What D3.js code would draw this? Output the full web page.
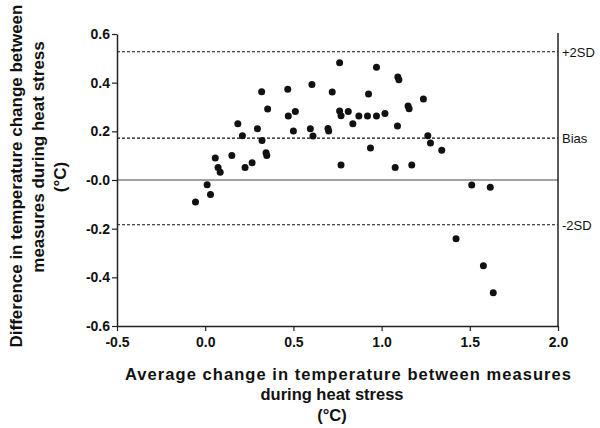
<!DOCTYPE html>
<html>
<head>
<meta charset="utf-8">
<script src="https://cdn.jsdelivr.net/npm/d3@7"></script>
<style>
  body { margin: 0; background: #fff; }
  svg { display: block; font-family: "Liberation Sans", Arial, sans-serif; }
</style>
</head>
<body>
<svg id="chart" width="600" height="428"></svg>
<script>
// Data
const avgChange = [-0.055, 0.011, 0.03, 0.057, 0.073, 0.085, 0.151, 0.185, 0.211, 0.226, 0.266, 0.296, 0.32, 0.322, 0.345, 0.349, 0.354, 0.468, 0.471, 0.511, 0.5, 0.605, 0.596, 0.611, 0.696, 0.70, 0.72, 0.762, 0.762, 0.77, 0.77, 0.811, 0.837, 0.871, 0.926, 0.92, 0.937, 0.971, 0.971, 1.019, 1.077, 1.092, 1.098, 1.09, 1.15, 1.156, 1.171, 1.237, 1.262, 1.277, 1.341, 1.511, 1.616, 1.422, 1.577, 1.633];
const diffChange = [-0.09, -0.02, -0.06, 0.09, 0.051, 0.032, 0.101, 0.231, 0.182, 0.051, 0.071, 0.211, 0.363, 0.162, 0.112, 0.101, 0.292, 0.373, 0.263, 0.282, 0.201, 0.392, 0.211, 0.181, 0.212, 0.201, 0.362, 0.482, 0.284, 0.264, 0.062, 0.282, 0.231, 0.263, 0.353, 0.263, 0.132, 0.463, 0.263, 0.273, 0.051, 0.423, 0.412, 0.222, 0.304, 0.293, 0.062, 0.333, 0.182, 0.152, 0.122, -0.021, -0.03, -0.241, -0.352, -0.463];
const refNames = ["+2SD", "Bias", "-2SD"];
const refValues = [0.527, 0.172, -0.184];
const xTicks = [-0.5, 0.0, 0.5, 1.0, 1.5, 2.0];
const xTickLabels = ["-0.5", "0.0", "0.5", "1.0", "1.5", "2.0"];
const yTicks = [0.6, 0.4, 0.2, 0.0, -0.2, -0.4, -0.6];
const yTickLabels = ["0.6", "0.4", "0.2", "-0.0", "-0.2", "-0.4", "-0.6"];
const yTitle = ["Difference in temperature change between", "measures during heat stress", "(°C)"];
const xTitle = ["Average change in temperature between measures", "during heat stress", "(°C)"];

const svg = d3.select("#chart");
const mLeft = 117, mRight = 558, mTop = 34, mBottom = 326;
const x = d3.scaleLinear().domain([-0.5, 2.0]).range([mLeft, mRight]);
const y = d3.scaleLinear().domain([-0.6, 0.6]).range([mBottom, mTop]);
const axisColor = "#222";

// zero line
svg.append("line")
  .attr("x1", mLeft).attr("x2", mRight)
  .attr("y1", y(0)).attr("y2", y(0))
  .attr("stroke", "#444").attr("stroke-width", 1);

// reference lines
refValues.forEach((v, i) => {
  svg.append("line")
    .attr("x1", mLeft).attr("x2", mRight)
    .attr("y1", y(v)).attr("y2", y(v))
    .attr("stroke", "#111").attr("stroke-width", 1.2)
    .attr("stroke-dasharray", "3,2");
  svg.append("text")
    .attr("x", mRight + 4).attr("y", y(v) + 5)
    .attr("font-size", 13).attr("fill", "#111")
    .text(refNames[i]);
});

// right axis line
svg.append("line")
  .attr("x1", mRight).attr("x2", mRight)
  .attr("y1", mTop - 1).attr("y2", mBottom)
  .attr("stroke", axisColor).attr("stroke-width", 1.5);

// x axis
const xAxis = svg.append("g")
  .attr("transform", `translate(0,${mBottom})`)
  .call(d3.axisBottom(x).tickValues(xTicks)
    .tickFormat((d, i) => xTickLabels[i]).tickSize(5).tickSizeOuter(0));
xAxis.select(".domain").attr("stroke", axisColor).attr("stroke-width", 1.5);
xAxis.selectAll(".tick line").attr("stroke", axisColor).attr("stroke-width", 1.2);
xAxis.selectAll(".tick text").attr("font-size", 14).attr("font-weight", "bold")
  .attr("fill", "#111").attr("font-family", "Liberation Sans, Arial, sans-serif")
  .attr("y", 21).attr("dy", null);

// y axis
const yAxis = svg.append("g")
  .attr("transform", `translate(${mLeft},0)`)
  .call(d3.axisLeft(y).tickValues(yTicks)
    .tickFormat((d, i) => yTickLabels[i]).tickSize(5).tickSizeOuter(0));
yAxis.select(".domain").attr("stroke", axisColor).attr("stroke-width", 1.5);
yAxis.selectAll(".tick line").attr("stroke", axisColor).attr("stroke-width", 1.2);
yAxis.selectAll(".tick text").attr("font-size", 14).attr("font-weight", "bold")
  .attr("fill", "#111").attr("font-family", "Liberation Sans, Arial, sans-serif")
  .attr("x", -7);

// points
svg.append("g").selectAll("circle")
  .data(avgChange.map((d, i) => [d, diffChange[i]]))
  .join("circle")
  .attr("cx", d => x(d[0])).attr("cy", d => y(d[1]))
  .attr("r", 3.5).attr("fill", "#111");

// y title (rotated); centres and baselines per line
const yCentres = [176, 157, 177];
const yBaselines = [22, 44, 66];
yTitle.forEach((t, i) => {
  svg.append("text")
    .attr("transform", `translate(${yBaselines[i]},${yCentres[i]}) rotate(-90)`)
    .attr("text-anchor", "middle")
    .attr("font-size", 17).attr("font-weight", "bold").attr("fill", "#111")
    .text(t);
});

// x title
const xCentres = [348, 332, 332];
const xBaselines = [380, 400, 421];
xTitle.forEach((t, i) => {
  const el = svg.append("text")
    .attr("x", xCentres[i]).attr("y", xBaselines[i])
    .attr("text-anchor", "middle")
    .attr("font-size", 16.5).attr("font-weight", "bold").attr("fill", "#111")
    .text(t);
  if (i === 0) el.attr("textLength", 446).attr("lengthAdjust", "spacing");
});
</script>
</body>
</html>
